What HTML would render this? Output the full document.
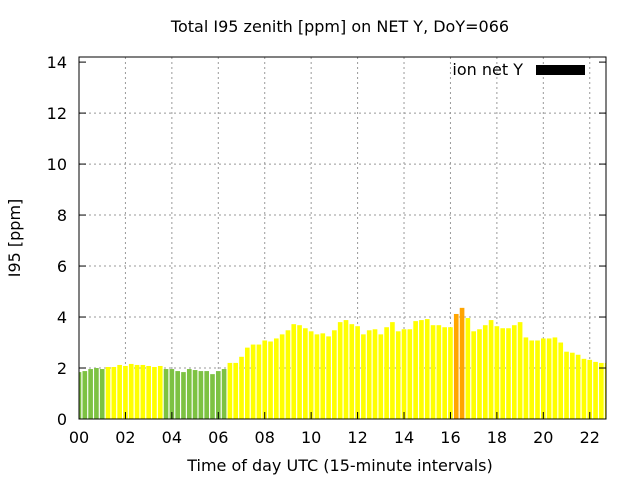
<!DOCTYPE html>
<html><head><meta charset="utf-8"><style>
body{margin:0;background:#fff;}
svg text{font-family:"DejaVu Sans","Liberation Sans",sans-serif;}
</style></head><body>
<svg id="chart" width="640" height="480" xmlns="http://www.w3.org/2000/svg">
<rect width="640" height="480" fill="#fff"/>
<text x="340" y="32" font-size="16" text-anchor="middle">Total I95 zenith [ppm] on NET Y, DoY=066</text>
<g id="grid"></g>
<defs><clipPath id="pc"><rect x="79" y="57" width="527" height="362"/></clipPath></defs>
<g id="bars" clip-path="url(#pc)"></g>
<g id="axes"></g>
<rect x="79" y="57" width="527" height="362" fill="none" stroke="#000" stroke-width="1"/>
<text transform="translate(20,238) rotate(-90)" font-size="16" text-anchor="middle">I95 [ppm]</text>
<text x="340" y="471" font-size="16" text-anchor="middle">Time of day UTC (15-minute intervals)</text>
<g>
<text x="523" y="75" font-size="16" text-anchor="end">ion net Y</text>
<rect x="536" y="65" width="49" height="10" fill="#000"/>
</g>
</svg>
<script>
const values=[1.84,1.88,1.96,2.0,1.96,2.04,2.04,2.12,2.08,2.16,2.12,2.12,2.08,2.04,2.08,1.96,1.96,1.88,1.84,1.96,1.92,1.88,1.88,1.76,1.88,1.96,2.2,2.2,2.44,2.8,2.92,
2.92,3.08,3.04,3.16,3.32,3.48,3.72,3.68,3.56,3.44,3.32,3.36,3.24,3.48,3.8,3.88,3.72,3.64,3.32,3.48,3.52,3.32,3.6,3.8,3.44,3.52,3.52,3.84,3.88,3.92,
3.68,3.68,3.6,3.6,4.12,4.36,3.96,3.44,3.52,3.68,3.88,3.64,3.56,3.56,3.68,3.8,3.2,3.08,3.08,3.16,3.16,3.2,3.0,2.64,2.6,2.52,2.36,2.32,2.24,2.2,2.2];
const colorClass=[0,0,0,0,0,1,1,1,1,1,1,1,1,1,1,0,0,0,0,0,0,0,0,0,0,0,1,1,1,1,1,
1,1,1,1,1,1,1,1,1,1,1,1,1,1,1,1,1,1,1,1,1,1,1,1,1,1,1,1,1,1,
1,1,1,1,2,2,1,1,1,1,1,1,1,1,1,1,1,1,1,1,1,1,1,1,1,1,1,1,1,1,1];
const yTicks=[0,2,4,6,8,10,12,14];
const xTicks=["00","02","04","06","08","10","12","14","16","18","20","22"];
const palette=["#7dc242","#ffff00","#ffa500"];
const NS="http://www.w3.org/2000/svg";
const X0=79,X1=606,Y0=419,Y1=57,hMax=22.7,vMax=14.2;
function xs(h){return X0+h/hMax*(X1-X0);}
function ys(v){return Y0-v/vMax*(Y0-Y1);}
function mk(t,a,p){const e=document.createElementNS(NS,t);for(const k in a)e.setAttribute(k,a[k]);p.appendChild(e);return e;}
const grid=document.getElementById('grid'),axes=document.getElementById('axes'),bars=document.getElementById('bars');
yTicks.forEach(v=>{const y=ys(v);
 if(v>0&&v<14){const g=mk('line',{x1:X0,x2:X1,y1:y,y2:y,stroke:'#999','stroke-dasharray':'2,3'},grid);
 
 }
 const t=mk('line',{x1:X0,x2:X0+7,y1:y,y2:y,stroke:'#000'},axes);
 
 
 const t2=mk('line',{x1:X1,x2:X1-7,y1:y,y2:y,stroke:'#000'},axes);
 
 
 const l=mk('text',{x:X0-12,y:y+6,'font-size':16,'text-anchor':'end'},axes);l.textContent=v;
 
 
});
xTicks.forEach(s=>{const x=xs(parseInt(s,10));
 if(x>X0+1){const g=mk('line',{x1:x,x2:x,y1:Y0,y2:Y1,stroke:'#999','stroke-dasharray':'2,3'},grid);
 
 }
 const t=mk('line',{x1:x,x2:x,y1:Y0,y2:Y0-7,stroke:'#000'},axes);
 
 
 const l=mk('text',{x:x,y:Y0+24,'font-size':16,'text-anchor':'middle'},axes);l.textContent=s;
 
 
});
const bw=(xs(0.25)-xs(0))*0.8;
values.forEach((v,i)=>{const c=xs(i*0.25);
 const r=mk('rect',{x:c-bw/2,y:ys(v),width:bw,height:Y0-ys(v),fill:palette[colorClass[i]]},bars);
 
 
});
</script>
</body></html>
